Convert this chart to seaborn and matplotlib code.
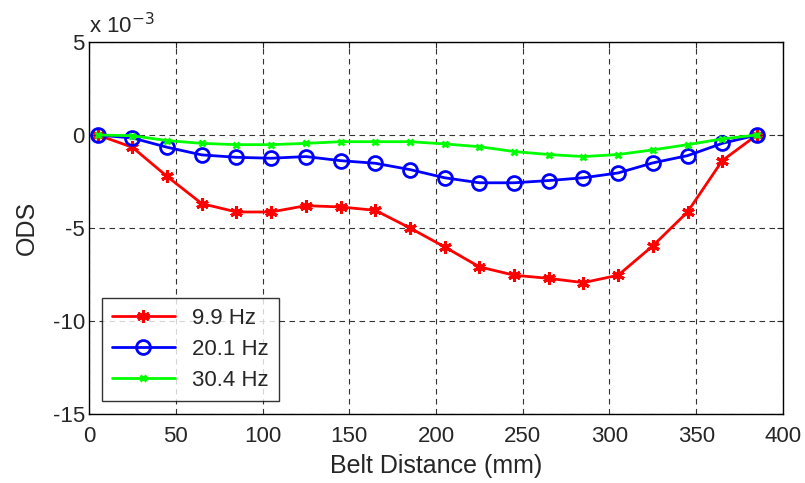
import numpy as np
import pandas as pd
import seaborn as sns
import matplotlib.pyplot as plt

# belt positions (mm)
distance = [5, 25, 45, 65, 85, 105, 125, 145, 165, 185, 205, 225, 245, 265, 285, 305, 325, 345, 365, 385]

# ODS values, in units of 1e-3
ods_99 = [0, -0.66, -2.23, -3.69, -4.14, -4.14, -3.80, -3.87, -4.05, -5.0,
          -6.02, -7.09, -7.54, -7.71, -7.94, -7.54, -5.96, -4.14, -1.38, 0]
ods_201 = [0, -0.16, -0.66, -1.07, -1.20, -1.25, -1.16, -1.38, -1.52, -1.86,
           -2.30, -2.57, -2.57, -2.45, -2.30, -2.04, -1.50, -1.11, -0.45, 0]
ods_304 = [0, -0.04, -0.30, -0.45, -0.52, -0.52, -0.45, -0.36, -0.36, -0.36,
           -0.48, -0.63, -0.89, -1.05, -1.16, -1.05, -0.80, -0.52, -0.21, 0]

labels = ['9.9 Hz', '20.1 Hz', '30.4 Hz']
colors = ['#ff0000', '#0000ff', '#00ff00']

sns.set_style("white")
plt.rcParams['font.family'] = ['Liberation Sans', 'DejaVu Sans']
plt.rcParams['axes.unicode_minus'] = False

fig = plt.figure(figsize=(8.05, 4.83), dpi=100)
ax = fig.add_axes([0.1106, 0.143, 0.862, 0.770])

series = [ods_99, ods_201, ods_304]
for vals, lab, col in zip(series, labels, colors):
    df = pd.DataFrame({'x': distance, 'y': vals})
    if lab == '9.9 Hz':
        mk = dict(marker=(6, 2, 0), markersize=9, markeredgewidth=2.2)
    elif lab == '20.1 Hz':
        mk = dict(marker='o', markersize=10, markerfacecolor='none', markeredgewidth=2)
    else:
        mk = dict(marker='x', markersize=5, markeredgewidth=2)
    sns.lineplot(data=df, x='x', y='y', ax=ax, color=col, linewidth=2,
                 label=lab, markeredgecolor=col, **mk)

ax.set_xlim(0, 400)
ax.set_ylim(-15, 5)
ax.set_xticks(np.arange(0, 401, 50))
ax.set_yticks(np.arange(-15, 6, 5))
ax.grid(True, color='#333333', linestyle=(0, (5, 4)), linewidth=0.8)
ax.tick_params(direction='in', labelsize=16, top=True, right=True, length=4)
ax.tick_params(axis='x', pad=9)
ax.tick_params(axis='y', pad=3)
for s in ax.spines.values():
    s.set_color('black')
    s.set_linewidth(1)

ax.set_xlabel('Belt Distance (mm)', fontsize=18, labelpad=5)
ax.set_ylabel('ODS', fontsize=18, labelpad=10)
ax.text(0.0, 1.01, 'x 10$^{-3}$', transform=ax.transAxes, fontsize=16, ha='left', va='bottom')

leg = ax.legend(loc='lower left', fontsize=16, frameon=True, fancybox=False,
                edgecolor='black', handlelength=2.8, borderaxespad=0.6, labelspacing=0.45,
                borderpad=0.45)
leg.get_frame().set_linewidth(1)

fig.savefig('out.png', dpi=100)
